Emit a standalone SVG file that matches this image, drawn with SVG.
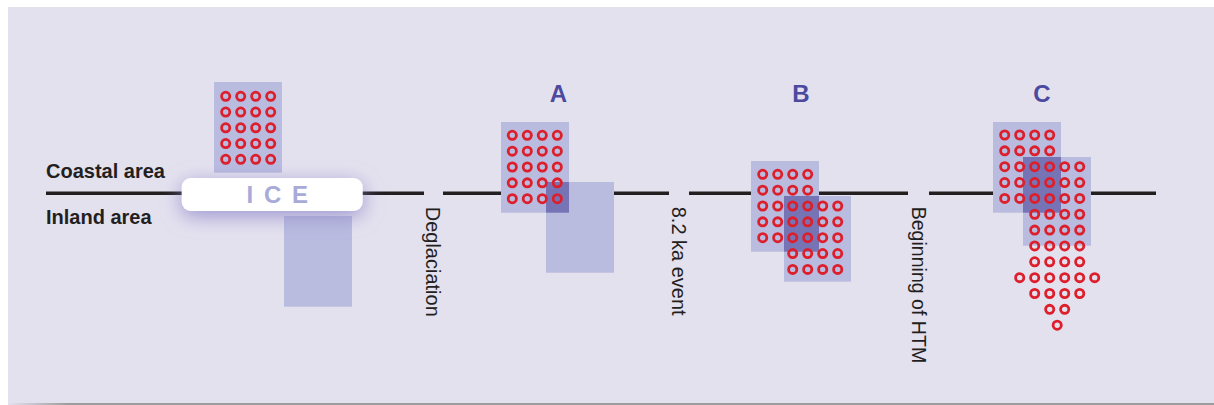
<svg xmlns="http://www.w3.org/2000/svg" xmlns:xlink="http://www.w3.org/1999/xlink" width="1214" height="405" viewBox="0 0 1214 405">
  <defs>
    <style>
      .box { fill: #b9bbdf; }
      .overlap { fill: #7774b5; }
      .dot { fill: none; stroke: #dc1f2b; stroke-width: 2.8; }
      .axis { fill: #231f20; font-family: "Liberation Sans", Arial, sans-serif; font-weight: bold; font-size: 20px; }
      .event { fill: #231f20; font-family: "Liberation Sans", Arial, sans-serif; font-size: 20px; }
      .stage { fill: #4b4a9f; font-family: "Liberation Sans", Arial, sans-serif; font-weight: bold; font-size: 24px; text-anchor: middle; }
      .timeline { stroke: #231f20; stroke-width: 3.6; fill: none; }
    </style>
    <circle id="o" class="dot" r="4.1"/>
    <filter id="glow" x="-40%" y="-120%" width="180%" height="340%">
      <feDropShadow dx="0" dy="5" stdDeviation="10" flood-color="#8a82c6" flood-opacity="0.8"/>
    </filter>
    <linearGradient id="edge" x1="0" y1="0" x2="1" y2="0">
      <stop offset="0" stop-color="#e4e1ef"/>
      <stop offset="0.05" stop-color="#9c9c9c"/>
      <stop offset="1" stop-color="#9c9c9c"/>
    </linearGradient>
  </defs>

  <!-- panel -->
  <rect width="1214" height="405" fill="#ffffff"/>
  <rect x="8" y="7" width="1206" height="396" fill="#e4e1ef"/>
  <rect x="8" y="403" width="1206" height="2" fill="url(#edge)"/>

  <!-- timeline -->
  <g id="connectors" class="timeline">
    <line x1="46" y1="193.3" x2="424" y2="193.3"/>
    <line x1="443" y1="193.3" x2="669" y2="193.3"/>
    <line x1="689" y1="193.3" x2="908" y2="193.3"/>
    <line x1="929" y1="193.3" x2="1156" y2="193.3"/>
  </g>

  <!-- side labels -->
  <g id="area-labels">
    <text class="axis" x="46" y="178">Coastal area</text>
    <text class="axis" x="46" y="224">Inland area</text>
  </g>

  <!-- event labels -->
  <g id="events">
    <text class="event" transform="translate(426.4,206.7) rotate(90)">Deglaciation</text>
    <text class="event" transform="translate(671.6,206.7) rotate(90)">8.2 ka event</text>
    <text class="event" transform="translate(912.4,206.7) rotate(90)" textLength="156.5" lengthAdjust="spacingAndGlyphs">Beginning of HTM</text>
  </g>

  <!-- ice phase -->
  <g id="ice-phase">
    <rect class="box" x="214" y="82" width="68" height="90.7"/>
    <rect class="box" x="284" y="216" width="68" height="90.7"/>
    <g>
      <use href="#o" x="225.7" y="96.3"/><use href="#o" x="240.7" y="96.3"/><use href="#o" x="255.7" y="96.3"/><use href="#o" x="270.7" y="96.3"/>
      <use href="#o" x="225.7" y="112.05"/><use href="#o" x="240.7" y="112.05"/><use href="#o" x="255.7" y="112.05"/><use href="#o" x="270.7" y="112.05"/>
      <use href="#o" x="225.7" y="127.8"/><use href="#o" x="240.7" y="127.8"/><use href="#o" x="255.7" y="127.8"/><use href="#o" x="270.7" y="127.8"/>
      <use href="#o" x="225.7" y="143.55"/><use href="#o" x="240.7" y="143.55"/><use href="#o" x="255.7" y="143.55"/><use href="#o" x="270.7" y="143.55"/>
      <use href="#o" x="225.7" y="159.3"/><use href="#o" x="240.7" y="159.3"/><use href="#o" x="255.7" y="159.3"/><use href="#o" x="270.7" y="159.3"/>
    </g>
  </g>

  <!-- ice sheet -->
  <g id="ice">
    <rect x="181.7" y="178" width="181" height="33" rx="9" fill="#ffffff" filter="url(#glow)"/>
    <text x="246.5" y="202.7" fill="#a8aad8" font-family="Liberation Sans, Arial, sans-serif" font-weight="bold" font-size="24" letter-spacing="10.8">ICE</text>
  </g>

  <!-- stage A -->
  <g id="stage-a">
    <text class="stage" x="558.3" y="101.5">A</text>
    <rect class="box" x="501" y="122" width="68" height="90.7"/>
    <rect class="box" x="546" y="182" width="68" height="90.7"/>
    <rect class="overlap" x="546" y="182" width="23" height="30.7"/>
    <g>
      <use href="#o" x="512.3" y="135.3"/><use href="#o" x="527.3" y="135.3"/><use href="#o" x="542.3" y="135.3"/><use href="#o" x="557.3" y="135.3"/>
      <use href="#o" x="512.3" y="151.15"/><use href="#o" x="527.3" y="151.15"/><use href="#o" x="542.3" y="151.15"/><use href="#o" x="557.3" y="151.15"/>
      <use href="#o" x="512.3" y="167"/><use href="#o" x="527.3" y="167"/><use href="#o" x="542.3" y="167"/><use href="#o" x="557.3" y="167"/>
      <use href="#o" x="512.3" y="182.85"/><use href="#o" x="527.3" y="182.85"/><use href="#o" x="542.3" y="182.85"/><use href="#o" x="557.3" y="182.85"/>
      <use href="#o" x="512.3" y="198.7"/><use href="#o" x="527.3" y="198.7"/><use href="#o" x="542.3" y="198.7"/><use href="#o" x="557.3" y="198.7"/>
    </g>
  </g>

  <!-- stage B -->
  <g id="stage-b">
    <text class="stage" x="801" y="101.5">B</text>
    <rect class="box" x="751" y="161" width="68" height="90.7"/>
    <rect class="box" x="784" y="196" width="67" height="85.7"/>
    <rect class="overlap" x="784" y="196" width="35" height="55.7"/>
    <g>
      <use href="#o" x="762.7" y="174.3"/><use href="#o" x="777.7" y="174.3"/><use href="#o" x="792.7" y="174.3"/><use href="#o" x="807.7" y="174.3"/>
      <use href="#o" x="762.7" y="190.15"/><use href="#o" x="777.7" y="190.15"/><use href="#o" x="792.7" y="190.15"/><use href="#o" x="807.7" y="190.15"/>
      <use href="#o" x="762.7" y="206"/><use href="#o" x="777.7" y="206"/><use href="#o" x="792.7" y="206"/><use href="#o" x="807.7" y="206"/><use href="#o" x="822.7" y="206"/><use href="#o" x="837.7" y="206"/>
      <use href="#o" x="762.7" y="221.85"/><use href="#o" x="777.7" y="221.85"/><use href="#o" x="792.7" y="221.85"/><use href="#o" x="807.7" y="221.85"/><use href="#o" x="822.7" y="221.85"/><use href="#o" x="837.7" y="221.85"/>
      <use href="#o" x="762.7" y="237.7"/><use href="#o" x="777.7" y="237.7"/><use href="#o" x="792.7" y="237.7"/><use href="#o" x="807.7" y="237.7"/><use href="#o" x="822.7" y="237.7"/><use href="#o" x="837.7" y="237.7"/>
      <use href="#o" x="792.7" y="253.55"/><use href="#o" x="807.7" y="253.55"/><use href="#o" x="822.7" y="253.55"/><use href="#o" x="837.7" y="253.55"/>
      <use href="#o" x="792.7" y="269.4"/><use href="#o" x="807.7" y="269.4"/><use href="#o" x="822.7" y="269.4"/><use href="#o" x="837.7" y="269.4"/>
    </g>
  </g>

  <!-- stage C -->
  <g id="stage-c">
    <text class="stage" x="1042" y="101.5">C</text>
    <rect class="box" x="993" y="122" width="68" height="90.7"/>
    <rect class="box" x="1023" y="157" width="68" height="88.7"/>
    <rect class="overlap" x="1023" y="157" width="38" height="55.7"/>
    <g>
      <use href="#o" x="1004.7" y="135"/><use href="#o" x="1019.7" y="135"/><use href="#o" x="1034.7" y="135"/><use href="#o" x="1049.7" y="135"/>
      <use href="#o" x="1004.7" y="150.85"/><use href="#o" x="1019.7" y="150.85"/><use href="#o" x="1034.7" y="150.85"/><use href="#o" x="1049.7" y="150.85"/>
      <use href="#o" x="1004.7" y="166.7"/><use href="#o" x="1019.7" y="166.7"/><use href="#o" x="1034.7" y="166.7"/><use href="#o" x="1049.7" y="166.7"/><use href="#o" x="1064.7" y="166.7"/><use href="#o" x="1079.7" y="166.7"/>
      <use href="#o" x="1004.7" y="182.55"/><use href="#o" x="1019.7" y="182.55"/><use href="#o" x="1034.7" y="182.55"/><use href="#o" x="1049.7" y="182.55"/><use href="#o" x="1064.7" y="182.55"/><use href="#o" x="1079.7" y="182.55"/>
      <use href="#o" x="1004.7" y="198.4"/><use href="#o" x="1019.7" y="198.4"/><use href="#o" x="1034.7" y="198.4"/><use href="#o" x="1049.7" y="198.4"/><use href="#o" x="1064.7" y="198.4"/><use href="#o" x="1079.7" y="198.4"/>
      <use href="#o" x="1034.7" y="214.25"/><use href="#o" x="1049.7" y="214.25"/><use href="#o" x="1064.7" y="214.25"/><use href="#o" x="1079.7" y="214.25"/>
      <use href="#o" x="1034.7" y="230.1"/><use href="#o" x="1049.7" y="230.1"/><use href="#o" x="1064.7" y="230.1"/><use href="#o" x="1079.7" y="230.1"/>
      <use href="#o" x="1034.7" y="245.95"/><use href="#o" x="1049.7" y="245.95"/><use href="#o" x="1064.7" y="245.95"/><use href="#o" x="1079.7" y="245.95"/>
      <use href="#o" x="1034.7" y="261.8"/><use href="#o" x="1049.7" y="261.8"/><use href="#o" x="1064.7" y="261.8"/><use href="#o" x="1079.7" y="261.8"/>
      <use href="#o" x="1019.7" y="277.65"/><use href="#o" x="1034.7" y="277.65"/><use href="#o" x="1049.7" y="277.65"/><use href="#o" x="1064.7" y="277.65"/><use href="#o" x="1079.7" y="277.65"/><use href="#o" x="1094.7" y="277.65"/>
      <use href="#o" x="1034.7" y="293.5"/><use href="#o" x="1049.7" y="293.5"/><use href="#o" x="1064.7" y="293.5"/><use href="#o" x="1079.7" y="293.5"/>
      <use href="#o" x="1049.7" y="309.35"/><use href="#o" x="1064.7" y="309.35"/>
      <use href="#o" x="1057.2" y="325.2"/>
    </g>
  </g>
</svg>
